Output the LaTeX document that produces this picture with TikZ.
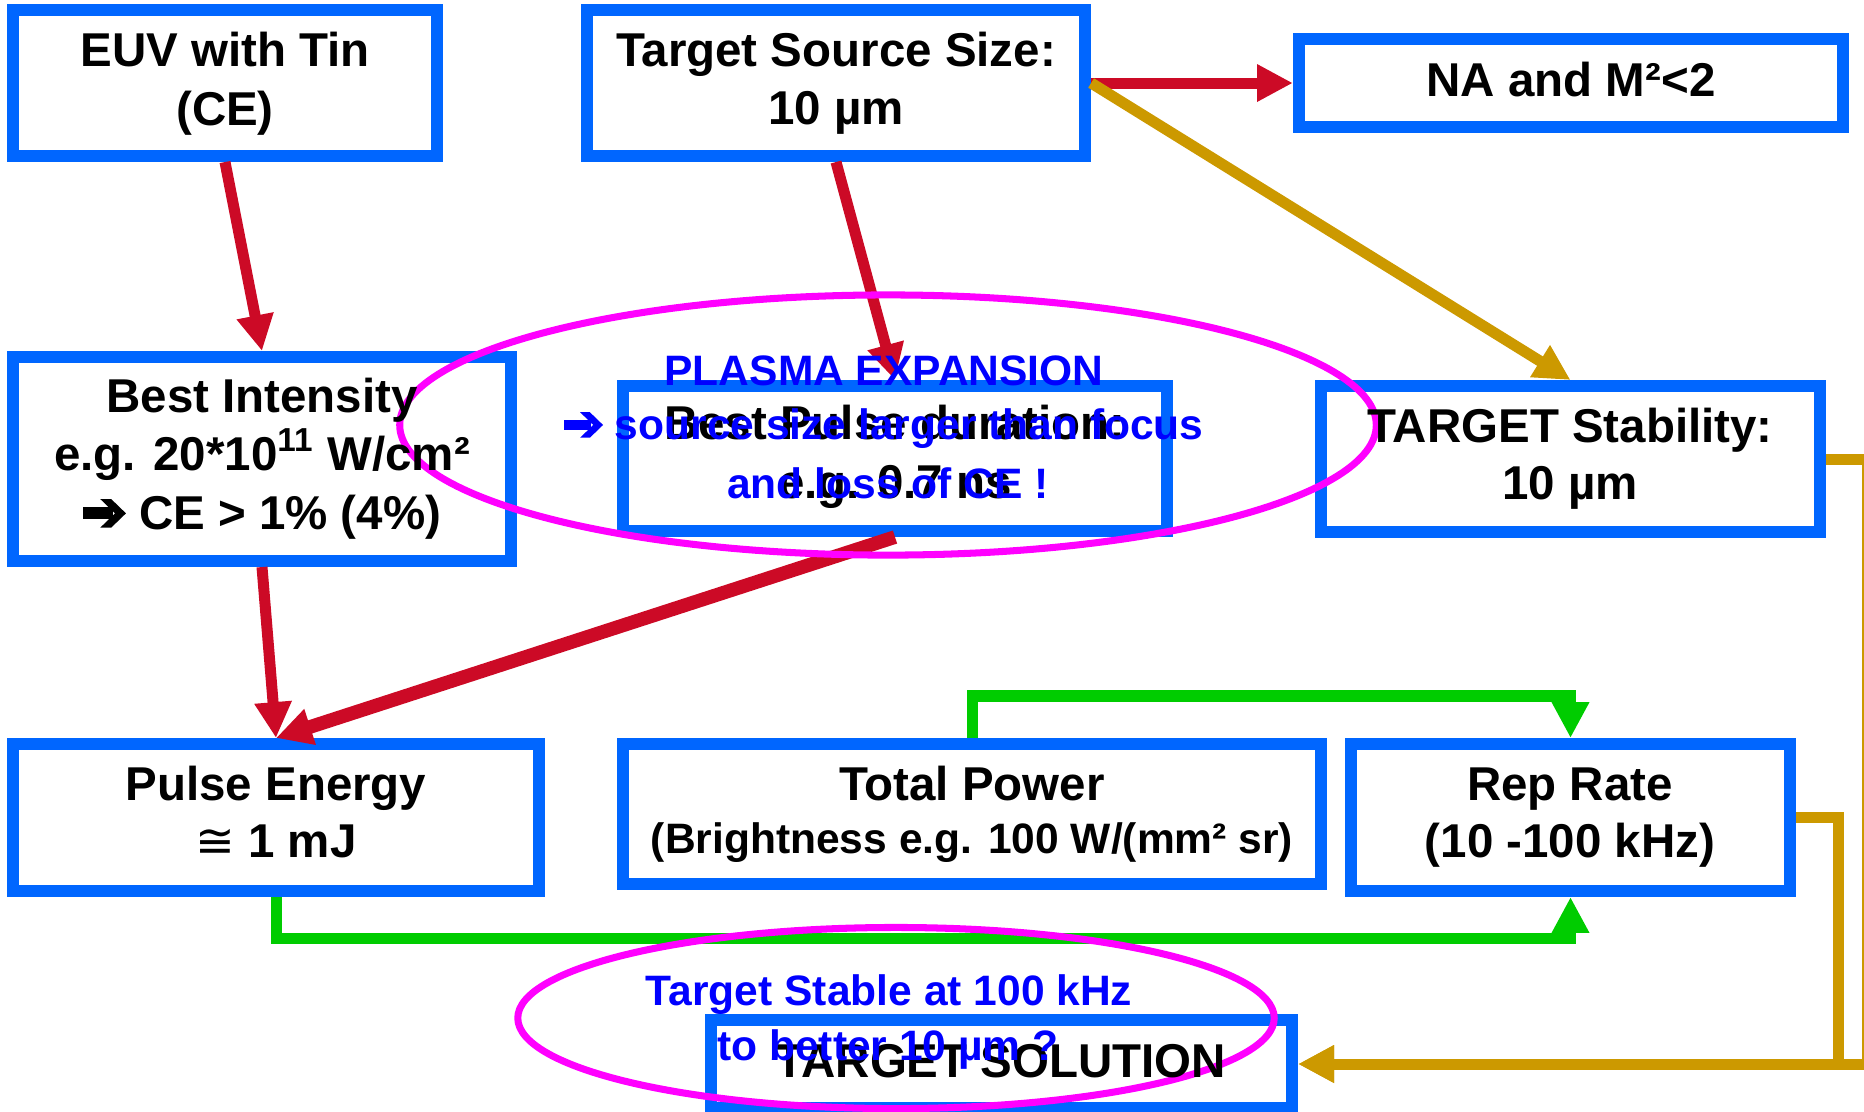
\documentclass[tikz,border=0pt]{standalone}
\usepackage{fontspec}
\setmainfont{Liberation Sans}
\newfontfamily\dingfont{DejaVu Sans}
\usetikzlibrary{arrows.meta,shapes.geometric}
\definecolor{boxblue}{RGB}{0,102,255}
\definecolor{noteblue}{RGB}{0,0,255}
\definecolor{linkred}{RGB}{204,10,38}
\definecolor{linkgold}{RGB}{204,153,0}
\definecolor{linkgreen}{RGB}{0,204,0}
\definecolor{ringmag}{RGB}{255,0,255}
% heavy wide-headed arrow glyph, sized to the current font
\newcommand\fatarrow{\tikz[baseline=0pt,x=1em,y=1em]{%
  \fill (0,0.205) rectangle (0.63,0.455);
  \fill (0.37,0.63) -- (0.60,0.63) -- (0.91,0.33) -- (0.60,0.03)
        -- (0.37,0.03) -- (0.68,0.33) -- cycle;}}
\tikzset{
  box/.style={draw=boxblue, line width=3.41pt, outer sep=1.7pt, inner sep=0pt},
  bigtxt/.style={font=\bfseries\fontsize{13.5pt}{16pt}\selectfont, inner sep=0pt, anchor=base},
  smalltxt/.style={font=\bfseries\fontsize{12.1pt}{14pt}\selectfont, inner sep=0pt, anchor=base},
  notetxt/.style={smalltxt, text=noteblue},
  link/.style={line width=3.13pt, -{Triangle[length=10.2pt,width=10pt]}},
  ring/.style={ellipse, draw=ringmag, line width=2pt, inner sep=0pt},
}
\begin{document}
\begin{tikzpicture}[x=0.01cm,y=-0.01cm]
\useasboundingbox (0,0) rectangle (1864,1111);
\clip (0,0) rectangle (1864,1111);

% boxes
\node[box, minimum width=4.24cm, minimum height=1.46cm] (euv)  at (225,83) {};
\node[box, minimum width=4.98cm, minimum height=1.46cm] (tss)  at (836,83) {};
\node[box, minimum width=5.44cm, minimum height=0.88cm] (na)   at (1571,83) {};
\node[box, minimum width=4.98cm, minimum height=2.04cm] (bi)   at (262,459) {};
\node[box, minimum width=5.44cm, minimum height=1.45cm] (bp)   at (895,458.5) {};
\node[box, minimum width=4.99cm, minimum height=1.46cm] (ts)   at (1570.5,459) {};
\node[box, minimum width=5.26cm, minimum height=1.47cm] (pe)   at (276,817.5) {};
\node[box, minimum width=6.98cm, minimum height=1.40cm] (tp)   at (972,814) {};
\node[box, minimum width=4.39cm, minimum height=1.47cm] (rr)   at (1570.5,817.5) {};
\node[box, minimum width=5.81cm, minimum height=0.88cm] (tsol) at (1001.5,1064) {};

% connectors
\draw[link, linkred] (euv.south) -- (bi.north);
\draw[link, linkred] (tss.south) -- (bp.north);
\draw[link, linkred] (tss.east) -- (na.west);
\draw[link, linkgold] (tss.east) -- (ts.north);
\draw[link, linkred] (bi.south) -- (pe.north);
\draw[link, linkred, line width=3.9pt] (bp.south) -- (pe.north);
\draw[link, linkgreen] (tp.north) -- ++(0,-42) -| (rr.north);
\draw[link, linkgreen] (pe.south) -- ++(0,41) -| (rr.south);
\draw[link, linkgold] (ts.east) -- ++(41,0) |- (tsol.east);
\draw[link, linkgold] (rr.east) -- ++(42,0) |- (tsol.east);

% highlight rings
\node[ring, minimum width=9.76cm, minimum height=2.60cm] (plasmaring) at (888,425) {};
\node[ring, minimum width=7.56cm, minimum height=1.81cm] (stablering) at (896,1018) {};

% box texts
\node[bigtxt] (euvA) at (225,66) {EUV with Tin};
\node[bigtxt] (euvB) at (225,125) {(CE)};
\node[bigtxt] (tssA) at (836,66) {Target Source Size:};
\node[bigtxt] (tssB) at (836,124) {10 µm};
\node[bigtxt] (naA) at (1571,96) {NA and M²<2};
\node[bigtxt] (biA) at (262,412) {Best Intensity};
\node[bigtxt] (biB) at (262,470) {e.g. 20*10\textsuperscript{11} W/cm²};
\node[bigtxt] (biC) at (262,529) {\fatarrow\ CE > 1\% (4\%)};
\node[bigtxt] (bpA) at (895,439) {Best Pulse duration:};
\node[bigtxt] (bpB) at (895,498) {e.g. 0.7 ns};
\node[bigtxt] (tsA) at (1570,442) {TARGET Stability:};
\node[bigtxt] (tsB) at (1570,499) {10 µm};
\node[bigtxt] (peA) at (276,800) {Pulse Energy};
\node[bigtxt] (peB) at (276,857) {{\dingfont\mdseries ≅} 1 mJ};
\node[bigtxt] (tpA) at (972,800) {Total Power};
\node[smalltxt] (tpB) at (972,853) {(Brightness e.g. 100 W/(mm² sr)};
\node[bigtxt] (rrA) at (1570,800) {Rep Rate};
\node[bigtxt] (rrB) at (1570,857) {(10 -100 kHz)};
\node[bigtxt] (tsolA) at (1001,1077) {TARGET SOLUTION};

% blue remarks
\node[notetxt] (plA) at (884,385) {PLASMA EXPANSION};
\node[notetxt] (plB) at (884,439) {\fatarrow\ source size larger than focus};
\node[notetxt] (plC) at (888,498) {and loss of CE !};
\node[notetxt] (stA) at (889,1005) {Target Stable at 100 kHz};
\node[notetxt] (stB) at (888,1060) {to better 10 µm ?};
\end{tikzpicture}
\end{document}
